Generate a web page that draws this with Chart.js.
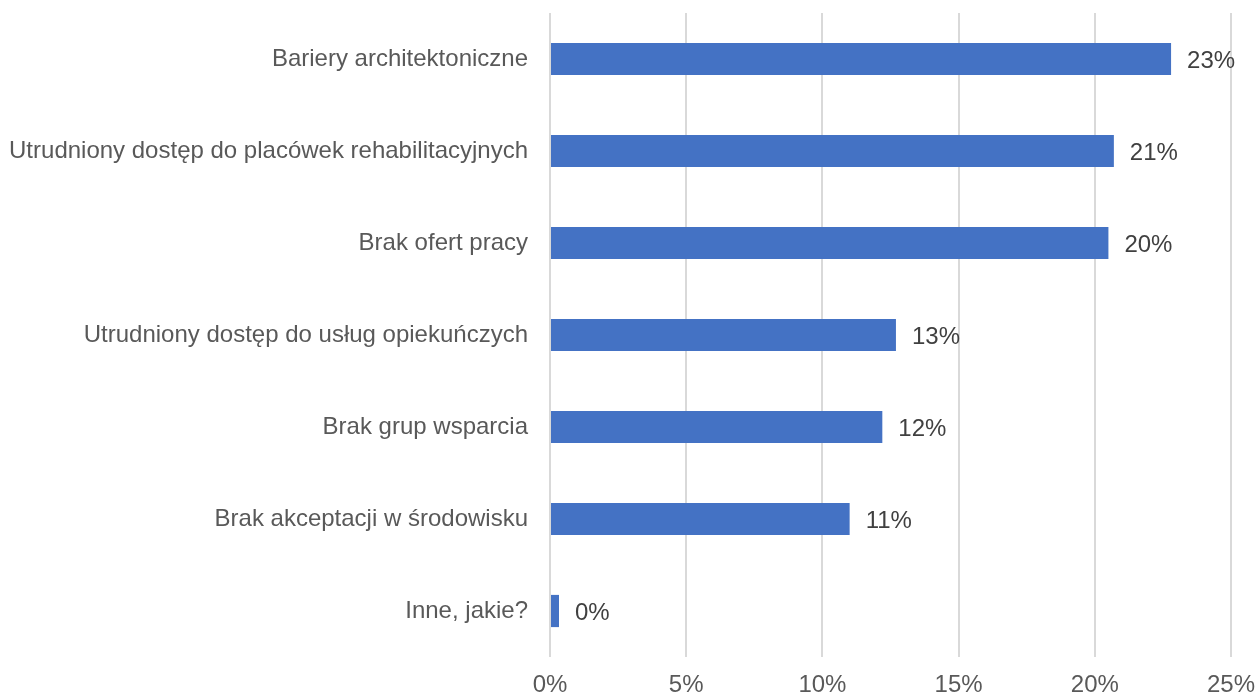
<!DOCTYPE html>
<html>
<head>
<meta charset="utf-8">
<script src="https://cdn.jsdelivr.net/npm/chart.js@4"></script>
<style>
  html, body { margin: 0; padding: 0; background: #fff; }
  #wrap { width: 1258px; height: 698px; }
</style>
</head>
<body>
<div id="wrap"><canvas id="chart" width="1258" height="698"></canvas></div>
<script>
const categories = [
  'Bariery architektoniczne',
  'Utrudniony dostęp do placówek rehabilitacyjnych',
  'Brak ofert pracy',
  'Utrudniony dostęp do usług opiekuńczych',
  'Brak grup wsparcia',
  'Brak akceptacji w środowisku',
  'Inne, jakie?'
];
const values = [22.8, 20.7, 20.5, 12.7, 12.2, 11.0, 0.33];
const valueLabels = ['23%', '21%', '20%', '13%', '12%', '11%', '0%'];

const FONT = '"Liberation Sans", Arial, sans-serif';
const FSIZE = 24;

// draws the % labels right of each bar
const barLabels = {
  id: 'barLabels',
  afterDatasetsDraw(chart) {
    const ctx = chart.ctx;
    const meta = chart.getDatasetMeta(0);
    ctx.save();
    ctx.font = FSIZE + 'px ' + FONT;
    ctx.fillStyle = '#404040';
    ctx.textAlign = 'left';
    ctx.textBaseline = 'middle';
    meta.data.forEach((bar, i) => {
      ctx.fillText(valueLabels[i], bar.x + 16, bar.y + 2);
    });
    ctx.restore();
  }
};

new Chart(document.getElementById('chart'), {
  type: 'bar',
  data: {
    labels: categories,
    datasets: [{
      data: values,
      backgroundColor: '#4472C4',
      categoryPercentage: 1,
      barPercentage: 0.35
    }]
  },
  options: {
    indexAxis: 'y',
    responsive: false,
    animation: false,
    layout: { padding: { top: 13, right: 27, bottom: 0, left: 0 } },
    plugins: { legend: { display: false }, tooltip: { enabled: false } },
    scales: {
      x: {
        min: 0,
        max: 25,
        ticks: {
          stepSize: 5,
          callback: (v) => v + '%',
          color: '#595959',
          font: { family: FONT, size: FSIZE },
          padding: 14
        },
        grid: { color: '#d9d9d9', lineWidth: 2, drawTicks: false },
        border: { display: false },
        afterFit(scale) {
          scale.height = 41;
          scale.paddingLeft = 0;
          scale.paddingRight = 0;
        }
      },
      y: {
        ticks: {
          color: '#595959',
          font: { family: FONT, size: FSIZE },
          padding: 22
        },
        grid: { display: false, drawTicks: false },
        border: { display: false },
        afterFit(scale) {
          scale.width = 550;
          scale.paddingTop = 0;
          scale.paddingBottom = 0;
        }
      }
    }
  },
  plugins: [barLabels]
});
</script>
</body>
</html>
